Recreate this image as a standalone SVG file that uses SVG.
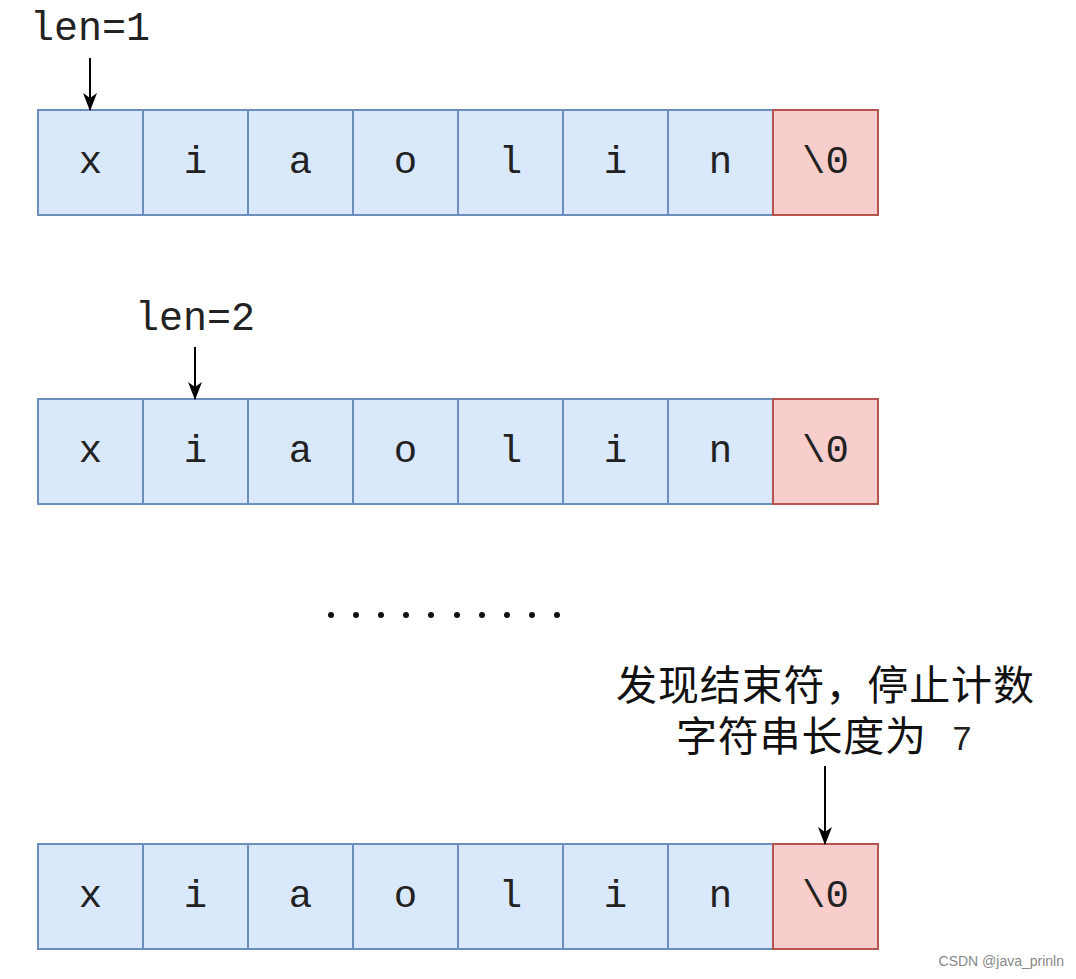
<svg xmlns="http://www.w3.org/2000/svg" width="1076" height="979" viewBox="0 0 1076 979">
<defs>
<style>
.c{fill:#dae8fc;stroke:#6c8ebf;stroke-width:2}
.e{fill:#f8cecc;stroke:#b85450;stroke-width:2}
.t{font-family:"Liberation Mono","Courier New",monospace;font-size:39px;fill:#222;text-anchor:middle}
.l{font-family:"Liberation Mono","Courier New",monospace;font-size:40px;fill:#222;text-anchor:middle}
.cn{font-family:"Noto Sans CJK SC",sans-serif;font-size:41px;fill:#111;text-anchor:middle}
.a{stroke:#000;stroke-width:2;fill:none}
</style>
<marker id="ah2" markerWidth="18" markerHeight="14" refX="17" refY="7" orient="auto" markerUnits="userSpaceOnUse" viewBox="0 0 18 14">
<path d="M0,0 L18,7 L0,14 L5,7 Z" fill="#000"/>
</marker>
<g id="row">
<rect class="c" x="38" y="0" width="105" height="105"/>
<rect class="c" x="143" y="0" width="105" height="105"/>
<rect class="c" x="248" y="0" width="105" height="105"/>
<rect class="c" x="353" y="0" width="105" height="105"/>
<rect class="c" x="458" y="0" width="105" height="105"/>
<rect class="c" x="563" y="0" width="105" height="105"/>
<rect class="c" x="668" y="0" width="105" height="105"/>
<rect class="e" x="773" y="0" width="105" height="105"/>
<text class="t" x="90.5" y="63">x</text>
<text class="t" x="195.5" y="63">i</text>
<text class="t" x="300.5" y="63">a</text>
<text class="t" x="405.5" y="63">o</text>
<text class="t" x="510.5" y="63">l</text>
<text class="t" x="615.5" y="63">i</text>
<text class="t" x="720.5" y="63">n</text>
<text class="t" x="825.5" y="63">\0</text>
</g>
</defs>
<rect width="1076" height="979" fill="#fff"/>
<g id="row1"><use href="#row" y="110"/></g>
<g id="row2"><use href="#row" y="399"/></g>
<g id="row3"><use href="#row" y="844"/></g>
<g id="label1"><text class="l" x="90" y="40">len=1</text></g>
<g id="label2"><text class="l" x="195" y="330">len=2</text></g>
<g id="label3">
<text class="cn" x="825" y="700" textLength="418">发现结束符，停止计数</text>
<text class="cn" x="801" y="751" textLength="250">字符串长度为</text>
<text x="962" y="750" font-family="Liberation Sans, sans-serif" font-size="34" fill="#222" text-anchor="middle">7</text>
</g>
<g id="dots" fill="#111">
<circle cx="331" cy="615" r="3"/><circle cx="356" cy="615" r="3"/><circle cx="381" cy="615" r="3"/><circle cx="406" cy="615" r="3"/><circle cx="431" cy="615" r="3"/><circle cx="457" cy="615" r="3"/><circle cx="482" cy="615" r="3"/><circle cx="507" cy="615" r="3"/><circle cx="532" cy="615" r="3"/><circle cx="557" cy="615" r="3"/>
</g>
<g id="connectors">
<line class="a" x1="90" y1="58" x2="90" y2="110" marker-end="url(#ah2)"/>
<line class="a" x1="195" y1="347" x2="195" y2="399" marker-end="url(#ah2)"/>
<line class="a" x1="825" y1="766" x2="825" y2="844" marker-end="url(#ah2)"/>
</g>
<text x="1064" y="966" font-family="Liberation Sans, sans-serif" font-size="14" fill="#888" text-anchor="end">CSDN @java_prinln</text>
</svg>
